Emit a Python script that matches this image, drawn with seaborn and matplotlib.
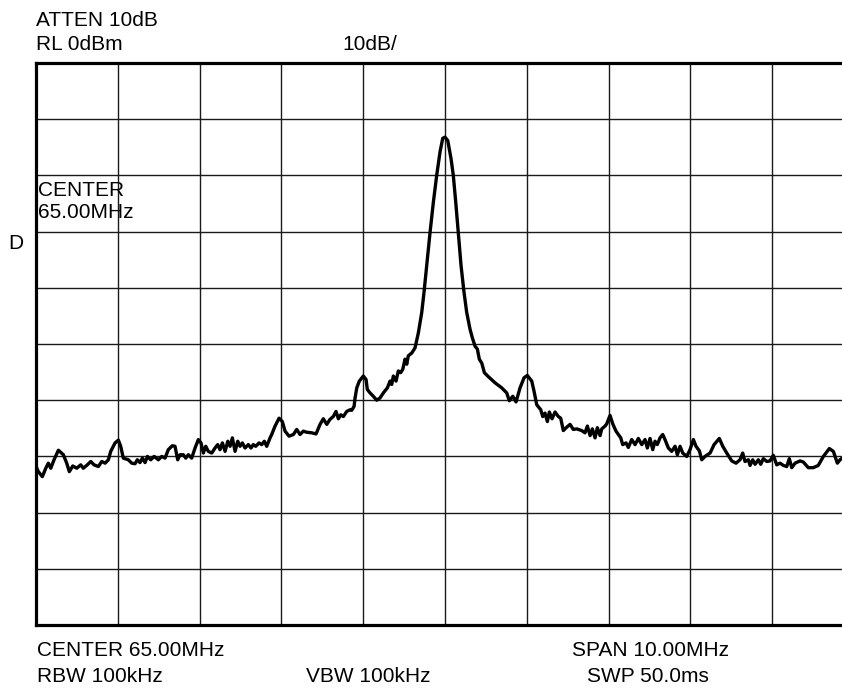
import numpy as np
import pandas as pd
import seaborn as sns
import matplotlib.pyplot as plt

# spectrum trace (MHz, dBm)
freq_mhz = [
    60.000, 60.028, 60.077, 60.119, 60.150, 60.180, 60.220, 60.273, 60.334, 60.375,
    60.407, 60.449, 60.498, 60.546, 60.578, 60.627, 60.669, 60.709, 60.762, 60.803,
    60.844, 60.884, 60.913, 60.966, 61.006, 61.035, 61.067, 61.128, 61.170, 61.210,
    61.238, 61.271, 61.300, 61.333, 61.361, 61.402, 61.443, 61.495, 61.537, 61.577,
    61.617, 61.666, 61.699, 61.732, 61.760, 61.801, 61.830, 61.862, 61.903, 61.944,
    61.984, 62.017, 62.045, 62.075, 62.106, 62.148, 62.188, 62.221, 62.249, 62.278,
    62.311, 62.344, 62.372, 62.400, 62.433, 62.466, 62.494, 62.522, 62.555, 62.595,
    62.628, 62.656, 62.686, 62.726, 62.759, 62.791, 62.820, 62.861, 62.881, 62.922,
    62.971, 63.011, 63.044, 63.093, 63.146, 63.187, 63.227, 63.268, 63.309, 63.370,
    63.423, 63.472, 63.512, 63.554, 63.594, 63.634, 63.667, 63.696, 63.725, 63.757,
    63.798, 63.839, 63.859, 63.888, 63.900, 63.921, 63.952, 64.001, 64.034, 64.050,
    64.083, 64.123, 64.165, 64.205, 64.246, 64.295, 64.328, 64.348, 64.368, 64.401,
    64.429, 64.458, 64.483, 64.511, 64.532, 64.551, 64.593, 64.633, 64.674, 64.715,
    64.743, 64.776, 64.817, 64.857, 64.898, 64.939, 64.972, 65.000, 65.033, 65.073,
    65.101, 65.131, 65.162, 65.196, 65.232, 65.265, 65.306, 65.334, 65.367, 65.395,
    65.419, 65.449, 65.481, 65.529, 65.611, 65.693, 65.754, 65.786, 65.828, 65.868,
    65.917, 65.966, 66.006, 66.060, 66.088, 66.121, 66.170, 66.194, 66.222, 66.251,
    66.275, 66.308, 66.345, 66.385, 66.414, 66.446, 66.488, 66.528, 66.568, 66.610,
    66.671, 66.711, 66.740, 66.773, 66.801, 66.834, 66.862, 66.895, 66.916, 66.956,
    66.977, 67.017, 67.050, 67.090, 67.119, 67.148, 67.172, 67.213, 67.241, 67.282,
    67.323, 67.363, 67.405, 67.445, 67.473, 67.506, 67.539, 67.567, 67.595, 67.628,
    67.661, 67.689, 67.730, 67.771, 67.812, 67.840, 67.873, 67.906, 67.955, 67.995,
    68.036, 68.068, 68.109, 68.138, 68.178, 68.240, 68.289, 68.353, 68.395, 68.444,
    68.505, 68.557, 68.606, 68.639, 68.667, 68.708, 68.729, 68.761, 68.790, 68.830,
    68.859, 68.891, 68.933, 68.973, 69.013, 69.055, 69.095, 69.136, 69.177, 69.209,
    69.238, 69.279, 69.340, 69.380, 69.441, 69.502, 69.563, 69.625, 69.698, 69.747,
    69.796, 69.829, 69.853,
]
level_dbm = [
    -71.8, -72.7, -73.6, -72.1, -71.2, -72.1, -70.6, -68.9, -69.7, -71.2,
    -72.7, -71.7, -72.1, -71.5, -72.1, -71.5, -70.9, -71.5, -71.8, -70.9,
    -71.2, -70.6, -69.1, -67.6, -67.1, -68.2, -70.3, -70.6, -71.2, -71.3,
    -70.6, -71.1, -70.3, -71.1, -70.0, -70.6, -70.0, -70.6, -70.0, -70.3,
    -68.8, -68.1, -68.2, -70.6, -69.7, -69.7, -70.3, -69.7, -70.3, -68.5,
    -67.0, -67.6, -69.4, -68.2, -69.1, -69.4, -68.5, -67.9, -68.8, -67.6,
    -69.1, -67.3, -68.2, -66.7, -69.1, -67.3, -68.2, -67.6, -68.5, -67.9,
    -68.5, -67.9, -68.2, -67.6, -67.9, -67.3, -68.2, -66.7, -66.1, -64.6,
    -63.2, -63.8, -65.5, -66.4, -66.1, -65.2, -66.1, -65.5, -65.7, -65.8,
    -66.0, -64.3, -63.3, -64.3, -63.4, -62.9, -62.0, -63.3, -62.6, -62.9,
    -62.0, -61.7, -61.8, -61.1, -59.6, -57.8, -56.6, -55.7, -56.3, -58.1,
    -58.7, -59.3, -60.0, -59.6, -58.7, -57.8, -56.6, -57.2, -55.7, -56.6,
    -54.8, -55.1, -54.5, -52.7, -53.6, -52.1, -51.6, -50.7, -48.0, -44.4,
    -40.8, -36.1, -30.1, -24.8, -20.0, -15.8, -13.4, -13.2, -13.8, -17.0,
    -20.0, -24.8, -30.1, -36.1, -40.8, -44.4, -47.4, -48.9, -50.4, -50.9,
    -52.7, -53.4, -55.1, -55.8, -56.9, -57.8, -58.7, -60.1, -59.3, -60.3,
    -57.8, -56.0, -55.6, -56.6, -58.4, -60.8, -61.7, -62.9, -62.3, -63.8,
    -62.1, -63.3, -62.1, -62.9, -63.2, -65.4, -64.8, -64.3, -65.2, -65.1,
    -65.4, -65.8, -64.6, -66.3, -65.1, -66.7, -64.9, -66.3, -65.1, -64.6,
    -64.2, -62.7, -64.2, -65.5, -66.1, -66.7, -67.9, -67.6, -68.4, -67.0,
    -67.9, -66.8, -67.9, -67.0, -68.5, -66.8, -68.8, -67.3, -67.9, -66.7,
    -66.1, -67.0, -68.5, -69.1, -68.2, -69.7, -68.2, -69.4, -70.0, -68.8,
    -67.0, -68.2, -69.0, -70.6, -70.0, -69.4, -67.9, -66.8, -68.2, -69.4,
    -70.8, -71.2, -70.6, -69.4, -70.9, -70.6, -71.6, -70.6, -71.4, -70.6,
    -71.4, -70.4, -70.9, -70.8, -69.8, -71.5, -71.2, -71.6, -71.8, -70.4,
    -72.0, -71.2, -70.8, -71.0, -72.0, -72.0, -71.6, -70.0, -68.6, -69.1,
    -71.2, -70.6, -70.3,
]

center_mhz = 65.0
span_mhz = 10.0
ref_level = 0
db_per_div = 10
n_div = 10

df = pd.DataFrame({"freq": freq_mhz, "level": level_dbm})

sns.set_style("white")
plt.rcParams['font.family'] = ['Liberation Sans', 'DejaVu Sans']

fig = plt.figure(figsize=(8.42, 6.88), dpi=100)
ax = fig.add_axes([0.0428, 0.0915, 0.9715, 0.8170])

sns.lineplot(data=df, x="freq", y="level", ax=ax, color="black",
             linewidth=2.4, estimator=None, sort=False)

f0 = center_mhz - span_mhz / 2
ax.set_xlim(f0, f0 + span_mhz)
ax.set_ylim(ref_level - db_per_div * n_div, ref_level)
ax.set_xticks(np.linspace(f0, f0 + span_mhz, n_div + 1))
ax.set_yticks(np.arange(ref_level - db_per_div * n_div, ref_level + 1, db_per_div))
ax.tick_params(length=0, labelbottom=False, labelleft=False)
ax.grid(True, color="#1a1a1a", linewidth=1.0)
ax.set_xlabel("")
ax.set_ylabel("")
for s in ax.spines.values():
    s.set_color("black")
    s.set_linewidth(2.3)

fs = 15
W, H = 842, 688
def put(x, y, s):
    fig.text(x / W, 1 - y / H, s, fontsize=fs, va="center", ha="left", color="black")

put(36, 20, "ATTEN 10dB")
put(36, 44, "RL 0dBm")
put(342, 44, "10dB/")
put(38, 190, "CENTER")
put(38, 212, "65.00MHz")
put(8, 243, "D")
put(37, 650, "CENTER 65.00MHz")
put(37, 676, "RBW 100kHz")
put(306, 676, "VBW 100kHz")
put(572, 650, "SPAN 10.00MHz")
put(587, 676, "SWP 50.0ms")

plt.savefig("out.png", dpi=100)
